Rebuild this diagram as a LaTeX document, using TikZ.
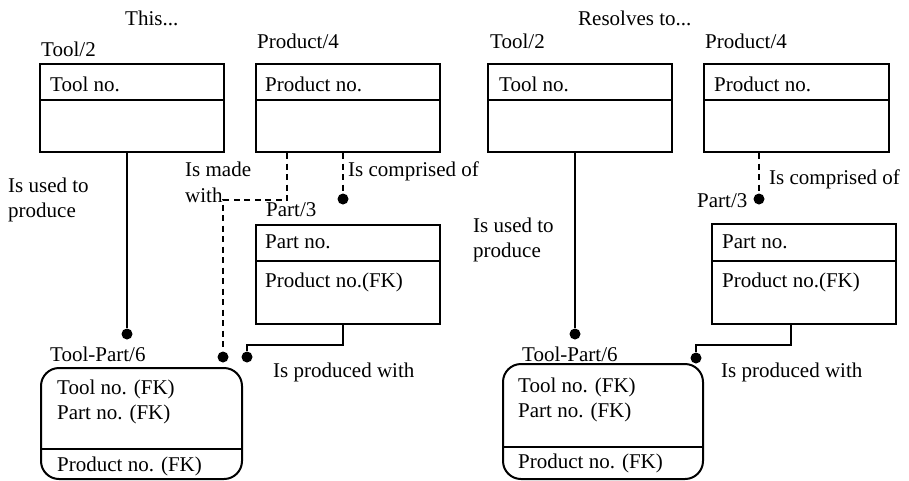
\documentclass[tikz,border=0pt]{standalone}
\usepackage{fontspec}
\setmainfont{Liberation Serif}
\usetikzlibrary{positioning}
\begin{document}
\begin{tikzpicture}[x=1pt, y=-1pt,
  every node/.style={font=\fontsize{21}{25}\selectfont},
  lbl/.style={anchor=base west, inner sep=0pt},
  entity/.style={draw, line width=2pt, anchor=north west, inner sep=0pt},
  rel/.style={line width=2pt},
  reldash/.style={line width=2pt, dash pattern=on 6pt off 4.5pt},
  divider/.style={line width=2pt},
  dot/.style={circle, fill, inner sep=0pt, minimum size=11pt}]
\useasboundingbox (0,0) rectangle (909,480);

% ---------------- left: many-to-many form ----------------
\node[lbl] (thisT) at (125,25) {This...};

\node[entity, minimum width=184pt, minimum height=88pt] (toolL) at (39,63) {};
\draw[divider] (toolL.west |- 0,100) -- (toolL.east |- 0,100);
\node[lbl] (toolLname) at (41,56) {Tool/2};
\node[lbl] (toolLkey) at (50,91) {Tool no.};

\node[entity, minimum width=184pt, minimum height=88pt] (prodL) at (255,63) {};
\draw[divider] (prodL.west |- 0,100) -- (prodL.east |- 0,100);
\node[lbl] (prodLname) at (257,48) {Product/4};
\node[lbl] (prodLkey) at (265,91) {Product no.};

\node[entity, minimum width=184pt, minimum height=99pt] (partL) at (255,224) {};
\draw[divider] (partL.west |- 0,261) -- (partL.east |- 0,261);
\node[lbl] (partLname) at (266,216) {Part/3};
\node[lbl] (partLkey) at (265,248) {Part no.};
\node[lbl] (partLfk) at (265,287) {Product no.(FK)};

\node[entity, rounded corners=18pt, minimum width=201pt, minimum height=111pt] (tpL) at (40,367) {};
\draw[divider] (tpL.west |- 0,449) -- (tpL.east |- 0,449);
\node[lbl] (tpLname) at (50,361) {Tool-Part/6};
\node[lbl] (tpLk1) at (57,394) {Tool no. (FK)};
\node[lbl] (tpLk2) at (57,419) {Part no. (FK)};
\node[lbl] (tpLk3) at (57,471) {Product no. (FK)};

% relationship ends
\node[dot] (dToolL) at (127,334) {};
\node[dot] (dMadeL) at (223,357) {};
\node[dot] (dCompL) at (343,199) {};
\node[dot] (dProdL) at (247,357) {};

\draw[rel] (toolL.south -| dToolL) -- (dToolL);
\draw[reldash] (prodL.south west) ++(32,0) |- (dMadeL |- 0,200) -- (dMadeL);
\draw[reldash] (prodL.south -| dCompL) -- (dCompL);
\draw[rel] (partL.south -| dCompL) -- ++(0,20) -| (dProdL);

\node[lbl] (usedL1) at (8,192) {Is used to};
\node[lbl] (usedL2) at (8,217) {produce};
\node[lbl] (madeL1) at (185,176) {Is made};
\node[lbl] (madeL2) at (185,202) {with};
\node[lbl] (compL) at (348,176) {Is comprised of};
\node[lbl] (prodwL) at (273,377) {Is produced with};

% ---------------- right: resolved form ----------------
\node[lbl] (resT) at (578,25) {Resolves to...};

\node[entity, minimum width=184pt, minimum height=88pt] (toolR) at (487,63) {};
\draw[divider] (toolR.west |- 0,100) -- (toolR.east |- 0,100);
\node[lbl] (toolRname) at (490,48) {Tool/2};
\node[lbl] (toolRkey) at (499,91) {Tool no.};

\node[entity, minimum width=185pt, minimum height=88pt] (prodR) at (703,63) {};
\draw[divider] (prodR.west |- 0,100) -- (prodR.east |- 0,100);
\node[lbl] (prodRname) at (705,48) {Product/4};
\node[lbl] (prodRkey) at (714,91) {Product no.};

\node[entity, minimum width=184pt, minimum height=100pt] (partR) at (711,223) {};
\draw[divider] (partR.west |- 0,261) -- (partR.east |- 0,261);
\node[lbl] (partRname) at (697,207) {Part/3};
\node[lbl] (partRkey) at (722,248) {Part no.};
\node[lbl] (partRfk) at (722,287) {Product no.(FK)};

\node[entity, rounded corners=18pt, minimum width=200pt, minimum height=115pt] (tpR) at (502,363) {};
\draw[divider] (tpR.west |- 0,447) -- (tpR.east |- 0,447);
\node[lbl] (tpRname) at (522,361) {Tool-Part/6};
\node[lbl] (tpRk1) at (518,392) {Tool no. (FK)};
\node[lbl] (tpRk2) at (518,417) {Part no. (FK)};
\node[lbl] (tpRk3) at (518,468) {Product no. (FK)};

\node[dot] (dToolR) at (575,334) {};
\node[dot] (dCompR) at (759,199) {};
\node[dot] (dProdR) at (696,358) {};
\coordinate (partRout) at (791,323);

\draw[rel] (toolR.south -| dToolR) -- (dToolR);
\draw[reldash] (prodR.south -| dCompR) -- (dCompR);
\draw[rel] (partR.south -| partRout) -- ++(0,20) -| (dProdR);

\node[lbl] (usedR1) at (473,232) {Is used to};
\node[lbl] (usedR2) at (473,257) {produce};
\node[lbl] (compR) at (769,184) {Is comprised of};
\node[lbl] (prodwR) at (721,377) {Is produced with};
\end{tikzpicture}
\end{document}
